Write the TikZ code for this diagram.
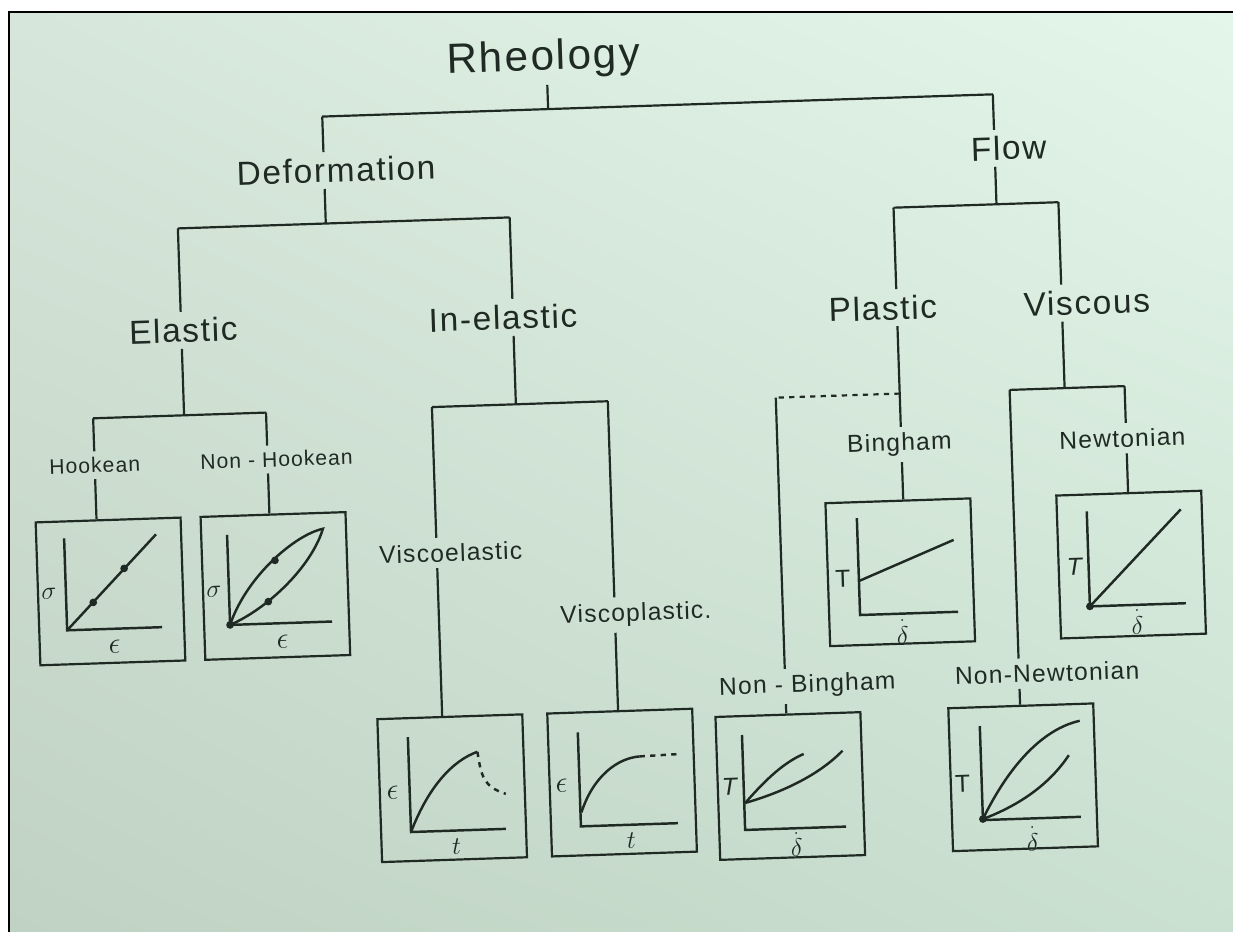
\documentclass[tikz,border=0pt]{standalone}
\usepackage{amsmath}
\usepackage{fontspec}
\setmainfont{Liberation Sans}[LetterSpace=5]
\usepackage{tikz}
\usepackage{xcolor}
\usetikzlibrary{shadings}

\definecolor{ink}{RGB}{32,42,36}
\definecolor{paperTL}{RGB}{214,230,218}
\definecolor{paperTR}{RGB}{228,246,234}
\definecolor{paperBL}{RGB}{192,210,195}
\definecolor{paperBR}{RGB}{202,224,208}

\tikzset{
  treeline/.style={draw=ink, line width=1.25pt},
  curve/.style={draw=ink, line width=1.4pt},
  rootlbl/.style={font=\fontsize{24}{28}\selectfont, text=ink},
  mainlbl/.style={font=\fontsize{19}{22}\selectfont, text=ink},
  sublbl/.style={font=\fontsize{14}{16}\selectfont, text=ink},
  smalllbl/.style={font=\fontsize{12}{14}\selectfont, text=ink},
  axlbl/.style={font=\fontsize{14}{16}\selectfont, text=ink, inner sep=0pt},
  epslbl/.style={font=\fontsize{19}{20}\selectfont, text=ink, inner sep=0pt},
  graphbox/.style={draw=ink, line width=1.25pt, minimum width=2.9cm,
    minimum height=2.86cm, inner sep=0pt, anchor=north west},
}

\begin{document}
\begin{tikzpicture}[x=0.02cm, y=-0.02cm]
% page
\useasboundingbox (0,0) rectangle (1233,932);
\fill[white] (0,0) rectangle (1233,932);
\shade[upper left=paperTL, upper right=paperTR, lower left=paperBL,
  lower right=paperBR] (9,12) rectangle (1233,932);
\draw[black, line width=1.5pt] (9,932) -- (9,12) -- (1233,12);

\begin{scope}[rotate around={1.9:(617,466)}, transform shape]
% labels of the tree
\node[rootlbl] (rheo) at (557,57) {Rheology};
\node[mainlbl] (deform) at (346,161) {Deformation};
\node[mainlbl] (flow) at (1019,161) {Flow};
\node[mainlbl] (elastic) at (188,316) {Elastic};
\node[mainlbl] (inelastic) at (508,314) {In-elastic};
\node[mainlbl] (plastic) at (888,317) {Plastic};
\node[mainlbl] (viscous) at (1092,318) {Viscous};
\node[smalllbl] (hooke) at (95,448) {Hookean};
\node[smalllbl] (nonhooke) at (277,448) {Non - Hookean};
\node[sublbl] (viscoel) at (448,547) {Viscoelastic};
\node[sublbl] (viscopl) at (631,615) {Viscoplastic.};
\node[sublbl] (bingham) at (900,454) {Bingham};
\node[sublbl] (newton) at (1123,455) {Newtonian};
\node[sublbl] (nonbing) at (800,692) {Non - Bingham};
\node[sublbl] (nonnewt) at (1040,687) {Non-Newtonian};

% branch points
\coordinate (j0) at (560,107);
\coordinate (tl) at (334,107);
\coordinate (tr) at (1005,107);
\coordinate (dj) at (334,214);
\coordinate (dl) at (186,214);
\coordinate (dr) at (518,214);
\coordinate (ej) at (186,401);
\coordinate (el) at (95,401);
\coordinate (er) at (268,401);
\coordinate (ij) at (518,401);
\coordinate (il) at (434,401);
\coordinate (ir) at (610,401);
\coordinate (fj) at (1005,217);
\coordinate (fl) at (902,217);
\coordinate (fr) at (1067,217);
\coordinate (pj) at (902,403);
\coordinate (pl) at (778,403);
\coordinate (vj) at (1067,403);
\coordinate (vl) at (1012,403);
\coordinate (vr) at (1127,403);

% Hookean
\begin{scope}[shift={(33,502)}]
\node[graphbox] (hookbox) at (0,0) {};
\draw[curve] (29,18) -- (29,110) -- (124,110);
\draw[curve] (29,110) -- (121,17);
\fill[ink] (56,83) circle (2.2pt) (88,50) circle (2.2pt);
\node[axlbl] (hooksig) at (12,73) {$\sigma$};
\node[epslbl] (hookeps) at (76,128) {$\epsilon$};
\end{scope}

% Non-Hookean
\begin{scope}[shift={(198,502)}]
\node[graphbox] (nhbox) at (0,0) {};
\draw[curve] (27,20) -- (27,110) -- (129,110);
\draw[curve] (27,110) .. controls (45,62) and (95,22) .. (123,17)
  .. controls (110,55) and (65,95) .. (27,110);
\fill[ink] (27,110) circle (2.2pt) (74,47) circle (2.2pt) (66,88) circle (2.2pt);
\node[axlbl] (nhsig) at (12,76) {$\sigma$};
\node[epslbl] (nheps) at (79,129) {$\epsilon$};
\end{scope}

% Viscoelastic
\begin{scope}[shift={(368,710)}]
\node[graphbox] (vebox) at (0,0) {};
\draw[curve] (31,20) -- (31,115) -- (126,115);
\draw[curve] (31,115) .. controls (50,70) and (75,45) .. (100,37);
\draw[curve, dashed] (100,37) .. controls (103,60) and (104,72) .. (127,80);
\node[epslbl] (veeps) at (14,75) {$\epsilon$};
\node[axlbl] (vet) at (76,131) {$t$};
\end{scope}

% Viscoplastic
\begin{scope}[shift={(538,710)}]
\node[graphbox] (vpbox) at (0,0) {};
\draw[curve] (31,21) -- (31,115) -- (128,115);
\draw[curve] (32,101) .. controls (45,65) and (70,48) .. (92,47);
\draw[curve, dashed] (92,47) -- (129,46);
\node[epslbl] (vpeps) at (13,74) {$\epsilon$};
\node[axlbl] (vpt) at (81,131) {$t$};
\end{scope}

% Bingham
\begin{scope}[shift={(823,509)}]
\node[graphbox] (bingbox) at (0,0) {};
\draw[curve] (32,17) -- (32,114) -- (130,114);
\draw[curve] (32,80) -- (128,42);
\node[axlbl] (bingtau) at (16,77) {T};
\node[axlbl] (bingrate) at (74,131) {$\overset{.}{\delta}$};
\end{scope}

% Newtonian
\begin{scope}[shift={(1054,509)}]
\node[graphbox] (newtbox) at (0,0) {};
\draw[curve] (31,18) -- (31,113) -- (127,113);
\draw[curve] (31,113) -- (125,19);
\fill[ink] (31,113) circle (2.2pt);
\node[axlbl] (newttau) at (18,73) {\textit{T}};
\node[axlbl] (newtrate) at (78,129) {$\overset{.}{\delta}$};
\end{scope}

% Non-Bingham
\begin{scope}[shift={(706,719)}]
\node[graphbox] (nbbox) at (0,0) {};
\draw[curve] (27,20) -- (27,115) -- (128,115);
\draw[curve] (28,88) .. controls (45,70) and (65,50) .. (88,41);
\draw[curve] (28,88) .. controls (60,80) and (100,65) .. (127,39);
\node[axlbl] (nbtau) at (14,71) {\textit{T}};
\node[axlbl] (nbrate) at (78,130) {$\overset{.}{\delta}$};
\end{scope}

% Non-Newtonian
\begin{scope}[shift={(939,718)}]
\node[graphbox] (nnbox) at (0,0) {};
\draw[curve] (32,20) -- (32,114) -- (130,114);
\draw[curve] (32,113) .. controls (60,60) and (95,25) .. (132,18);
\draw[curve] (32,113) .. controls (70,100) and (100,80) .. (120,52);
\fill[ink] (32,113) circle (2.2pt);
\node[axlbl] (nntau) at (13,77) {T};
\node[axlbl] (nnrate) at (81,133) {$\overset{.}{\delta}$};
\end{scope}

% connectors
\draw[treeline] (rheo.south -| j0) -- (j0) (tl) -- (tr);
% deformation side
\draw[treeline] (tl) -- (tl |- deform.north) (deform.south -| dj) -- (dj)
  (dl) -- (dr)
  (dl) -- (dl |- elastic.north) (elastic.south -| ej) -- (ej)
  (el) -- (er)
  (el) -- (el |- hooke.north) (hooke.south -| el) -- (hookbox.north -| el)
  (er) -- (er |- nonhooke.north) (nonhooke.south -| er) -- (nhbox.north -| er)
  (dr) -- (dr |- inelastic.north) (inelastic.south -| ij) -- (ij)
  (il) -- (ir)
  (il) -- (il |- viscoel.north) (viscoel.south -| il) -- (vebox.north -| il)
  (ir) -- (ir |- viscopl.north) (viscopl.south -| ir) -- (vpbox.north -| ir);
% flow side
\draw[treeline] (tr) -- (tr |- flow.north) (flow.south -| fj) -- (fj)
  (fl) -- (fr)
  (fl) -- (fl |- plastic.north) (plastic.south -| pj) -- (pj)
  (pj) -- (pj |- bingham.north) (bingham.south -| pj) -- (bingbox.north -| pj)
  (pl) -- (pl |- nonbing.north) (nonbing.south -| pl) -- (nbbox.north -| pl)
  (fr) -- (fr |- viscous.north) (viscous.south -| vj) -- (vj)
  (vl) -- (vr)
  (vr) -- (vr |- newton.north) (newton.south -| vr) -- (newtbox.north -| vr)
  (vl) -- (vl |- nonnewt.north) (nonnewt.south -| vl) -- (nnbox.north -| vl);
\draw[treeline, dashed] (pj) -- (pl);
\end{scope}
\end{tikzpicture}
\end{document}
